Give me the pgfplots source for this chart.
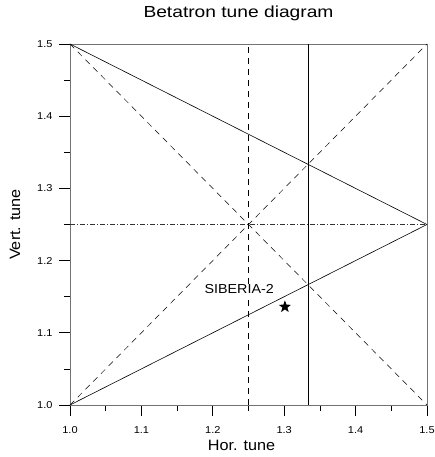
\documentclass[border=0pt]{standalone}
\usepackage{fontspec}
\setmainfont{Liberation Sans}
\usepackage{pgfplots}
\pgfplotsset{compat=1.18}
\usetikzlibrary{plotmarks}

% filled five-pointed star
\pgfdeclareplotmark{fstar}{%
  \pgfpathmoveto{\pgfqpointpolar{90}{\pgfplotmarksize}}%
  \pgfpathlineto{\pgfqpointpolar{126}{0.4\pgfplotmarksize}}%
  \pgfpathlineto{\pgfqpointpolar{162}{\pgfplotmarksize}}%
  \pgfpathlineto{\pgfqpointpolar{198}{0.4\pgfplotmarksize}}%
  \pgfpathlineto{\pgfqpointpolar{234}{\pgfplotmarksize}}%
  \pgfpathlineto{\pgfqpointpolar{270}{0.4\pgfplotmarksize}}%
  \pgfpathlineto{\pgfqpointpolar{306}{\pgfplotmarksize}}%
  \pgfpathlineto{\pgfqpointpolar{342}{0.4\pgfplotmarksize}}%
  \pgfpathlineto{\pgfqpointpolar{18}{\pgfplotmarksize}}%
  \pgfpathlineto{\pgfqpointpolar{54}{0.4\pgfplotmarksize}}%
  \pgfpathclose
  \pgfusepathqfill}

\begin{document}
\begin{tikzpicture}
  \begin{axis}[
      scale only axis,
      width=357pt, height=361pt,
      xmin=1.0, xmax=1.5, ymin=1.0, ymax=1.5,
      xtick={1.0,1.1,...,1.5}, ytick={1.0,1.1,...,1.5},
      minor tick num=1,
      tick align=outside,
      xtick pos=left, ytick pos=left,
      major tick length=11pt, minor tick length=6pt,
      axis line style={black!55, line width=0.6pt},
      tick style={black, line width=0.7pt},
      xticklabel style={font=\fontsize{10}{11}\selectfont, yshift=-7pt},
      yticklabel style={font=\fontsize{10}{11}\selectfont, xshift=-3pt},
      xticklabel={\scalebox{1.1}[1]{\pgfmathprintnumber[fixed,fixed zerofill,precision=1]{\tick}}},
      yticklabel={\scalebox{1.1}[1]{\pgfmathprintnumber[fixed,fixed zerofill,precision=1]{\tick}}},
      /pgf/number format/assume math mode=true,
      xlabel={\scalebox{1.08}[1]{Hor. tune}}, ylabel={\scalebox{1.08}[1]{Vert. tune}},
      xlabel style={font=\fontsize{15}{17}\selectfont,
        at={(axis description cs:0.5,0)}, anchor=center, yshift=-40pt, xshift=-7pt},
      ylabel style={font=\fontsize{15}{17}\selectfont,
        at={(axis description cs:0,0.5)}, anchor=center, yshift=55pt},
      title={\scalebox{1.2}[1]{Betatron tune diagram}},
      title style={font=\fontsize{16}{18}\selectfont,
        at={(axis description cs:0.5,1)}, anchor=center, yshift=25pt, xshift=-10pt},
      clip=false,
    ]
    % resonance lines
    \addplot[black, line width=0.6pt] coordinates {(1.0,1.5) (1.5,1.25)};
    \addplot[black, line width=0.6pt] coordinates {(1.0,1.0) (1.5,1.25)};
    \addplot[black, line width=0.6pt] coordinates {(1.3333,1.0) (1.3333,1.5)};
    \addplot[black, line width=0.5pt, dash pattern=on 6pt off 5pt] coordinates {(1.0,1.0) (1.5,1.5)};
    \addplot[black, line width=0.5pt, dash pattern=on 6pt off 5pt] coordinates {(1.0,1.5) (1.5,1.0)};
    \addplot[black, line width=0.5pt, dash pattern=on 6pt off 5pt] coordinates {(1.25,1.0) (1.25,1.5)};
    \addplot[black!80, line width=0.5pt, dash pattern=on 5pt off 2pt on 1pt off 2pt] coordinates {(1.0,1.25) (1.5,1.25)};
    % working point
    \addplot[only marks, mark=fstar, mark size=6.5pt, black] coordinates {(1.301,1.136)};
    \node[font=\fontsize{13}{15}\selectfont, fill=white, inner sep=1pt] at (axis cs:1.237,1.160) {\scalebox{1.1}[1]{SIBERIA-2}};
  \end{axis}
  \pgfresetboundingbox
  \path[use as bounding box] (-70pt,-52pt) rectangle (364pt,405pt);
\end{tikzpicture}
\end{document}
